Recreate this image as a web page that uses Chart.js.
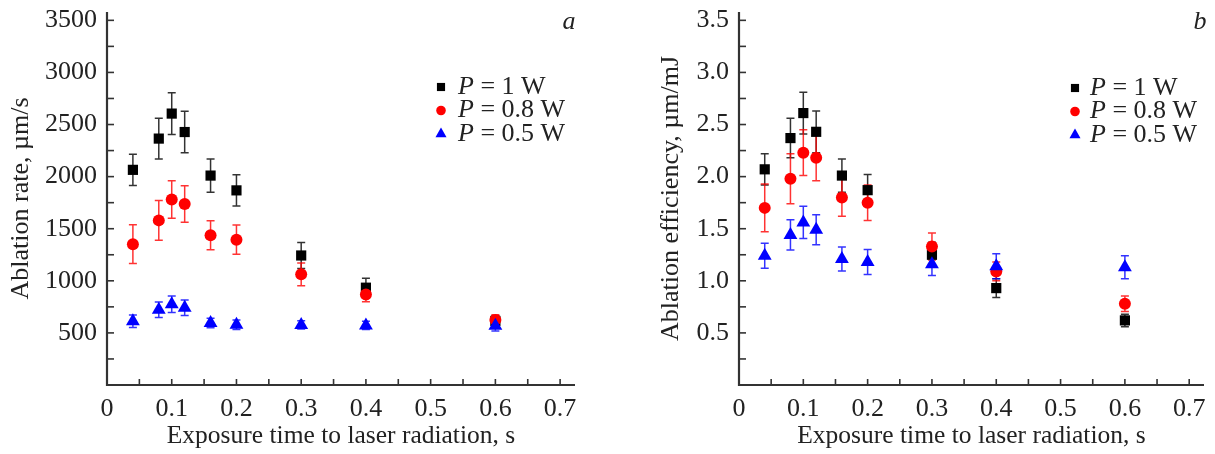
<!DOCTYPE html>
<html>
<head>
<meta charset="utf-8">
<script src="https://cdn.jsdelivr.net/npm/chart.js@4.4.0/dist/chart.umd.min.js"></script>
<style>
  body { margin: 0; background: #fff; }
  .panel { position: absolute; top: 0; }
  #rateBox { left: 0; }
  #effBox { left: 607px; }
</style>
</head>
<body>
<div class="panel" id="rateBox"><canvas id="rateChart" width="607" height="454"></canvas></div>
<div class="panel" id="effBox"><canvas id="effChart" width="608" height="454"></canvas></div>
<script>
// exposure time, s
const exposureTimes = [0.04, 0.08, 0.10, 0.12, 0.16, 0.20, 0.30, 0.40, 0.60];

// panel a: ablation rate, um/s
const rate1W = [2065, 2365, 2605, 2428, 2010, 1868, 1243, 934, 615];
const rate1WErr = [150, 195, 200, 200, 160, 150, 125, 90, 50];
const rate08W = [1352, 1580, 1780, 1738, 1437, 1395, 1062, 868, 625];
const rate08WErr = [185, 190, 180, 175, 140, 140, 110, 70, 50];
const rate05W = [612, 722, 775, 742, 595, 578, 577, 572, 568];
const rate05WErr = [60, 75, 80, 75, 45, 45, 40, 40, 50];

// panel b: ablation efficiency, um/mJ
const eff1W = [2.07, 2.37, 2.61, 2.43, 2.01, 1.87, 1.25, 0.93, 0.62];
const eff1WErr = [0.15, 0.19, 0.2, 0.2, 0.16, 0.15, 0.12, 0.09, 0.06];
const eff08W = [1.70, 1.98, 2.23, 2.18, 1.80, 1.75, 1.33, 1.09, 0.78];
const eff08WErr = [0.23, 0.24, 0.22, 0.22, 0.18, 0.17, 0.13, 0.09, 0.075];
const eff05W = [1.24, 1.44, 1.56, 1.49, 1.21, 1.18, 1.16, 1.14, 1.13];
const eff05WErr = [0.12, 0.145, 0.155, 0.145, 0.115, 0.12, 0.11, 0.12, 0.11];

const seriesNames = ['1 W', '0.8 W', '0.5 W'];
const xTicks = [0, 0.1, 0.2, 0.3, 0.4, 0.5, 0.6, 0.7];
const rateTicks = [500, 1000, 1500, 2000, 2500, 3000, 3500];
const effTicks = [0.5, 1.0, 1.5, 2.0, 2.5, 3.0, 3.5];

const colors = ['#000000', '#ff0000', '#0000ff'];
const shapes = ['rect', 'circle', 'triangle'];
const radii = [7.2, 6, 8];

Chart.defaults.font.family = '"Liberation Serif", "Times New Roman", serif';
Chart.defaults.color = '#222';

function drawMarker(ctx, shape, x, y, r, color) {
    ctx.fillStyle = color;
    ctx.beginPath();
    if (shape === 'rect') {
        const s = r * Math.SQRT1_2;
        ctx.rect(x - s, y - s, 2 * s, 2 * s);
    } else if (shape === 'circle') {
        ctx.arc(x, y, r, 0, Math.PI * 2);
    } else {
        ctx.moveTo(x, y - r);
        ctx.lineTo(x + r * 0.866, y + r * 0.5);
        ctx.lineTo(x - r * 0.866, y + r * 0.5);
        ctx.closePath();
    }
    ctx.fill();
}

// axis lines with inward major and minor ticks
const axesPlugin = {
    id: 'axesPlugin',
    beforeDatasetsDraw(chart, args, opts) {
        const ctx = chart.ctx;
        const area = chart.chartArea;
        const xs = chart.scales.x, ys = chart.scales.y;
        ctx.save();
        ctx.strokeStyle = '#333';
        ctx.lineWidth = 1.6;
        for (let i = 1; i * opts.xMinor <= xs.max + 1e-9; i++) {
            const px = xs.getPixelForValue(i * opts.xMinor);
            ctx.beginPath();
            ctx.moveTo(px, area.bottom);
            ctx.lineTo(px, area.bottom - 6);
            ctx.stroke();
        }
        for (let i = 1; i * opts.yMinor <= ys.max + 1e-9; i++) {
            const py = ys.getPixelForValue(i * opts.yMinor);
            ctx.beginPath();
            ctx.moveTo(area.left, py);
            ctx.lineTo(area.left + 7, py);
            ctx.stroke();
        }
        ctx.lineWidth = 2.2;
        ctx.beginPath();
        ctx.moveTo(area.left, area.top);
        ctx.lineTo(area.left, area.bottom);
        ctx.lineTo(area.right, area.bottom);
        ctx.stroke();
        ctx.restore();
    }
};

// vertical error bars with caps, taken from dataset.errors
const errorBarPlugin = {
    id: 'errorBars',
    beforeDatasetsDraw(chart) {
        const ctx = chart.ctx;
        const ys = chart.scales.y;
        chart.data.datasets.forEach((ds, i) => {
            const meta = chart.getDatasetMeta(i);
            ctx.save();
            ctx.strokeStyle = ds.borderColor;
            ctx.globalAlpha = 0.8;
            ctx.lineWidth = 1.5;
            meta.data.forEach((pt, j) => {
                const v = ds.data[j].y, e = ds.errors[j];
                const top = ys.getPixelForValue(v + e);
                const bot = ys.getPixelForValue(v - e);
                ctx.beginPath();
                ctx.moveTo(pt.x, top); ctx.lineTo(pt.x, bot);
                ctx.moveTo(pt.x - 4, top); ctx.lineTo(pt.x + 4, top);
                ctx.moveTo(pt.x - 4, bot); ctx.lineTo(pt.x + 4, bot);
                ctx.stroke();
            });
            ctx.restore();
        });
    }
};

// legend with italic P, plus the panel letter
const legendPlugin = {
    id: 'paperLegend',
    afterDraw(chart, args, opts) {
        const ctx = chart.ctx;
        ctx.save();
        ctx.textBaseline = 'middle';
        seriesNames.forEach((name, i) => {
            const y = opts.y + i * opts.step;
            drawMarker(ctx, shapes[i], opts.markerX, y, radii[i] * 0.8, colors[i]);
            ctx.fillStyle = '#222';
            ctx.font = 'italic 26px "Liberation Serif", serif';
            ctx.fillText('P', opts.textX, y);
            const w = ctx.measureText('P').width;
            ctx.font = '26px "Liberation Serif", serif';
            ctx.fillText(' = ' + name, opts.textX + w, y);
        });
        ctx.font = 'italic 26px "Liberation Serif", serif';
        ctx.textAlign = 'center';
        ctx.fillStyle = '#222';
        ctx.fillText(opts.letter, opts.letterX, 22);
        ctx.restore();
    }
};

function makeDatasets(values, errors) {
    return values.map((vals, i) => ({
        label: 'P = ' + seriesNames[i],
        data: exposureTimes.map((t, j) => ({ x: t, y: vals[j] })),
        errors: errors[i],
        backgroundColor: colors[i],
        borderColor: colors[i],
        borderWidth: 0,
        pointStyle: shapes[i],
        pointRadius: radii[i],
        order: 3 - i
    }));
}

function makeOptions(cfg) {
    return {
        responsive: false,
        animation: false,
        layout: { padding: { top: 12, right: cfg.padRight, left: 0, bottom: 0 } },
        plugins: {
            legend: { display: false },
            tooltip: { enabled: false },
            axesPlugin: { xMinor: 0.05, yMinor: cfg.yMinor },
            paperLegend: cfg.legend
        },
        scales: {
            x: {
                type: 'linear',
                min: 0,
                max: 0.723,
                grid: { display: false, drawTicks: false },
                border: { display: false },
                afterBuildTicks: s => { s.ticks = xTicks.map(v => ({ value: v })); },
                afterFit: s => {
                    s.height = 69;
                    s.paddingLeft = 0;
                    s.paddingRight = 0;
                },
                ticks: {
                    padding: 9,
                    font: { size: 26 },
                    color: '#222',
                    callback: v => (v === 0 ? '0' : v.toFixed(1))
                },
                title: {
                    display: true,
                    text: 'Exposure time to laser radiation, s',
                    font: { size: 25.5 },
                    color: '#222',
                    padding: { top: 0, bottom: 2 }
                }
            },
            y: {
                min: 0,
                max: cfg.yMax,
                grid: { display: false, drawTicks: false },
                border: { display: false },
                afterBuildTicks: s => { s.ticks = cfg.yTicks.map(v => ({ value: v })); },
                afterFit: s => {
                    s.width = cfg.yWidth;
                    s.paddingTop = 0;
                    s.paddingBottom = 0;
                },
                ticks: {
                    padding: 10,
                    font: { size: 26 },
                    color: '#222',
                    callback: cfg.yFormat
                },
                title: {
                    display: true,
                    text: cfg.yTitle,
                    font: { size: 26 },
                    color: '#222',
                    padding: { top: cfg.titlePad, bottom: 0 }
                }
            }
        }
    };
}

new Chart(document.getElementById('rateChart'), {
    type: 'scatter',
    data: {
        datasets: makeDatasets([rate1W, rate08W, rate05W], [rate1WErr, rate08WErr, rate05WErr])
    },
    options: makeOptions({
        padRight: 32,
        yMax: 3580,
        yMinor: 250,
        yTicks: rateTicks,
        yWidth: 107,
        yFormat: v => String(v),
        yTitle: 'Ablation rate, µm/s',
        titlePad: 6,
        legend: { markerX: 441, textX: 458, y: 87, step: 23.5, letter: 'a', letterX: 569 }
    }),
    plugins: [axesPlugin, errorBarPlugin, legendPlugin]
});

new Chart(document.getElementById('effChart'), {
    type: 'scatter',
    data: {
        datasets: makeDatasets([eff1W, eff08W, eff05W], [eff1WErr, eff08WErr, eff05WErr])
    },
    options: makeOptions({
        padRight: 11,
        yMax: 3.58,
        yMinor: 0.25,
        yTicks: effTicks,
        yWidth: 132,
        yFormat: v => v.toFixed(1),
        yTitle: 'Ablation efficiency, µm/mJ',
        titlePad: 49,
        legend: { markerX: 468, textX: 483, y: 88, step: 23.5, letter: 'b', letterX: 593 }
    }),
    plugins: [axesPlugin, errorBarPlugin, legendPlugin]
});
</script>
</body>
</html>
